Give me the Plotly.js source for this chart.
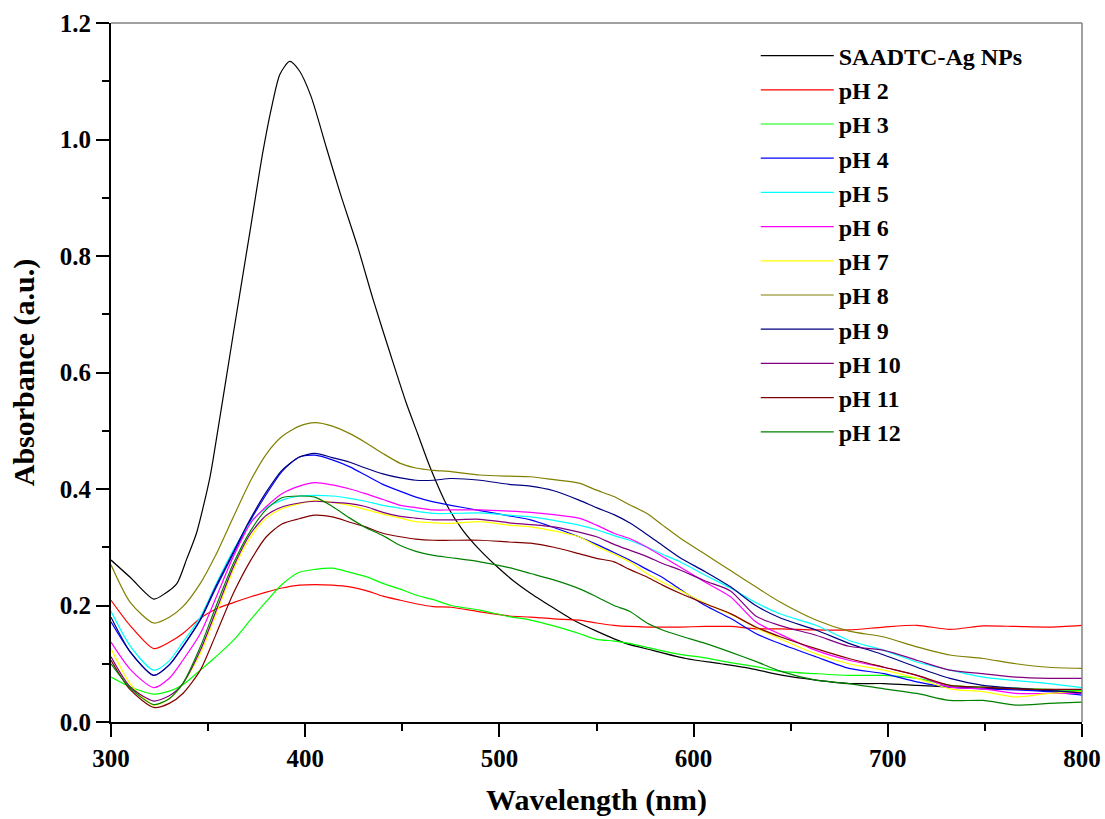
<!DOCTYPE html>
<html>
<head>
<meta charset="utf-8">
<script src="https://cdn.plot.ly/plotly-3.0.1.min.js"></script>
<style>html,body{margin:0;padding:0;background:#fff;}#chart{width:1105px;height:819px;}</style>
</head>
<body>
<div id="chart"></div>
<script>
// Wavelength grid for the SAADTC-Ag NPs spectrum (nm)
var waveNP = [300,310,322,328,334,339,344,351,354,363,372,378,383,387,392,397,403,411,418,427,435,444,452,458,464,473,481,490,499,507,516,524,538,550,565,579,596,614,629,646,663,680,698,715,732,749,766,783,800];
var absNP  = [0.278,0.248,0.211,0.221,0.238,0.280,0.324,0.421,0.480,0.667,0.851,0.975,1.060,1.112,1.134,1.118,1.074,0.985,0.908,0.816,0.725,0.630,0.548,0.494,0.440,0.372,0.330,0.295,0.266,0.243,0.221,0.204,0.175,0.156,0.135,0.123,0.109,0.100,0.092,0.080,0.072,0.066,0.066,0.063,0.060,0.058,0.057,0.054,0.052];

// Shared wavelength grid for the pH series (nm)
var wave = [300,310,322,330,337,346,354,363,372,380,388,397,405,414,423,431,440,449,457,466,475,490,505,516,528,541,550,559,567,576,584,593,606,619,632,645,663,680,698,715,732,749,766,783,800];

var pH2  = [0.209,0.165,0.126,0.137,0.152,0.178,0.194,0.205,0.215,0.223,0.230,0.235,0.236,0.235,0.232,0.226,0.216,0.209,0.203,0.198,0.197,0.189,0.182,0.180,0.177,0.175,0.170,0.166,0.164,0.163,0.163,0.163,0.164,0.164,0.160,0.160,0.158,0.158,0.163,0.166,0.159,0.165,0.164,0.163,0.166];
var pH3  = [0.077,0.060,0.048,0.053,0.064,0.089,0.112,0.140,0.176,0.207,0.236,0.257,0.262,0.264,0.257,0.250,0.238,0.228,0.218,0.210,0.200,0.192,0.181,0.175,0.165,0.152,0.142,0.139,0.135,0.128,0.122,0.116,0.110,0.102,0.095,0.087,0.083,0.080,0.080,0.075,0.063,0.060,0.058,0.056,0.054];
var pH4  = [0.172,0.120,0.080,0.098,0.129,0.175,0.230,0.289,0.347,0.391,0.430,0.455,0.458,0.450,0.438,0.424,0.408,0.396,0.386,0.378,0.372,0.363,0.354,0.347,0.334,0.318,0.305,0.291,0.278,0.262,0.248,0.228,0.200,0.178,0.152,0.134,0.112,0.092,0.083,0.069,0.060,0.057,0.055,0.052,0.046];
var pH5  = [0.190,0.130,0.089,0.105,0.137,0.180,0.236,0.295,0.343,0.368,0.381,0.388,0.389,0.388,0.384,0.379,0.372,0.367,0.362,0.358,0.358,0.359,0.355,0.352,0.346,0.338,0.330,0.320,0.312,0.300,0.288,0.275,0.252,0.230,0.205,0.185,0.166,0.140,0.123,0.103,0.089,0.077,0.071,0.066,0.059];
var pH6  = [0.137,0.090,0.059,0.075,0.106,0.152,0.213,0.284,0.342,0.370,0.392,0.405,0.411,0.407,0.400,0.392,0.382,0.372,0.368,0.364,0.364,0.364,0.362,0.360,0.356,0.350,0.338,0.324,0.315,0.300,0.284,0.266,0.240,0.215,0.172,0.150,0.123,0.106,0.094,0.080,0.060,0.057,0.049,0.049,0.049];
var pH7  = [0.126,0.065,0.029,0.040,0.066,0.117,0.184,0.261,0.318,0.350,0.366,0.375,0.380,0.377,0.372,0.365,0.357,0.350,0.344,0.342,0.341,0.344,0.338,0.335,0.328,0.318,0.302,0.288,0.275,0.255,0.240,0.226,0.204,0.185,0.162,0.142,0.117,0.100,0.089,0.075,0.057,0.052,0.043,0.049,0.052];
var pH8  = [0.270,0.205,0.170,0.180,0.198,0.238,0.287,0.352,0.415,0.460,0.490,0.508,0.514,0.508,0.495,0.480,0.461,0.444,0.436,0.432,0.430,0.424,0.422,0.421,0.416,0.410,0.398,0.387,0.373,0.358,0.338,0.316,0.288,0.260,0.232,0.205,0.175,0.156,0.146,0.129,0.115,0.109,0.100,0.094,0.092];
var pH9  = [0.180,0.120,0.080,0.098,0.130,0.176,0.233,0.292,0.350,0.395,0.432,0.455,0.461,0.454,0.446,0.436,0.426,0.419,0.415,0.415,0.418,0.415,0.408,0.405,0.397,0.381,0.368,0.356,0.342,0.322,0.303,0.282,0.258,0.232,0.200,0.178,0.158,0.135,0.115,0.094,0.075,0.063,0.058,0.054,0.050];
var pH10 = [0.112,0.060,0.036,0.045,0.066,0.123,0.190,0.266,0.324,0.355,0.369,0.376,0.379,0.377,0.375,0.370,0.360,0.353,0.350,0.347,0.347,0.348,0.342,0.339,0.335,0.326,0.318,0.305,0.295,0.284,0.272,0.261,0.242,0.225,0.182,0.165,0.149,0.130,0.123,0.106,0.089,0.083,0.077,0.075,0.075];
var pH11 = [0.106,0.055,0.025,0.032,0.049,0.089,0.150,0.221,0.278,0.318,0.340,0.349,0.355,0.352,0.343,0.335,0.324,0.318,0.314,0.312,0.312,0.312,0.309,0.307,0.300,0.289,0.281,0.275,0.262,0.249,0.235,0.221,0.203,0.186,0.163,0.146,0.126,0.109,0.094,0.080,0.063,0.060,0.057,0.056,0.056];
var pH12 = [0.100,0.058,0.030,0.040,0.066,0.129,0.198,0.272,0.329,0.365,0.385,0.388,0.386,0.370,0.350,0.334,0.320,0.303,0.293,0.286,0.282,0.275,0.265,0.255,0.244,0.229,0.215,0.200,0.190,0.170,0.158,0.148,0.135,0.120,0.104,0.087,0.072,0.066,0.057,0.049,0.037,0.037,0.029,0.032,0.034];

var seriesNames = ['pH 2','pH 3','pH 4','pH 5','pH 6','pH 7','pH 8','pH 9','pH 10','pH 11','pH 12'];
var seriesValues = [pH2,pH3,pH4,pH5,pH6,pH7,pH8,pH9,pH10,pH11,pH12];
var seriesColors = ['#ff0000','#00ff00','#0000ff','#00ffff','#ff00ff','#ffff00','#808000','#000080','#800080','#800000','#008000'];

var traces = [{
  x: waveNP, y: absNP, name: 'SAADTC-Ag NPs', type: 'scatter', mode: 'lines',
  line: {color: '#000000', width: 1.2, shape: 'spline', smoothing: 0.7}, legendgroup: 'g0'
}];
for (var i = 0; i < seriesNames.length; i++) {
  traces.push({
    x: wave, y: seriesValues[i], name: seriesNames[i], type: 'scatter', mode: 'lines',
    line: {color: seriesColors[i], width: 1.2, shape: 'spline', smoothing: 0.7}, legendgroup: 'g' + (i + 1)
  });
}

var fontFam = '"Liberation Serif", "Times New Roman", Times, serif';
var layout = {
  width: 1105, height: 819,
  margin: {l: 111, r: 23, t: 23, b: 97},
  paper_bgcolor: '#ffffff', plot_bgcolor: '#ffffff',
  font: {family: fontFam, size: 25, color: '#000', weight: 'bold'},
  showlegend: true,
  legend: {
    x: 0.664, y: 0.985, xanchor: 'left', yanchor: 'top',
    bgcolor: 'rgba(0,0,0,0)', borderwidth: 0,
    font: {family: fontFam, size: 24, color: '#000', weight: 'bold'},
    tracegroupgap: 0, itemwidth: 73
  },
  xaxis: {
    range: [300, 800], dtick: 100, tick0: 300,
    showline: true, linecolor: '#000', linewidth: 2,
    ticks: 'outside', ticklen: 13, tickwidth: 2, tickcolor: '#000',
    minor: {dtick: 50, ticks: 'outside', ticklen: 7, tickwidth: 2, tickcolor: '#000'},
    showgrid: false, zeroline: false,
    tickfont: {family: fontFam, size: 25, color: '#000', weight: 'bold'},
    title: {text: 'Wavelength (nm)', font: {family: fontFam, size: 30, color: '#000', weight: 'bold'}, standoff: 18}
  },
  yaxis: {
    range: [0, 1.2], dtick: 0.2, tick0: 0, tickformat: '.1f',
    showline: true, linecolor: '#000', linewidth: 2,
    ticks: 'outside', ticklen: 13, tickwidth: 2, tickcolor: '#000',
    minor: {dtick: 0.1, ticks: 'outside', ticklen: 7, tickwidth: 2, tickcolor: '#000'},
    showgrid: false, zeroline: false,
    tickfont: {family: fontFam, size: 25, color: '#000', weight: 'bold'},
    title: {text: 'Absorbance (a.u.)', font: {family: fontFam, size: 30, color: '#000', weight: 'bold'}, standoff: 16}
  },
  shapes: [
    {type: 'line', xref: 'paper', yref: 'paper', x0: 0, x1: 1, y0: 1, y1: 1, line: {color: '#808080', width: 1.5}},
    {type: 'line', xref: 'paper', yref: 'paper', x0: 1, x1: 1, y0: 0, y1: 1, line: {color: '#808080', width: 1.5}}
  ]
};

Plotly.newPlot('chart', traces, layout, {displayModeBar: false, staticPlot: true});
</script>
</body>
</html>
